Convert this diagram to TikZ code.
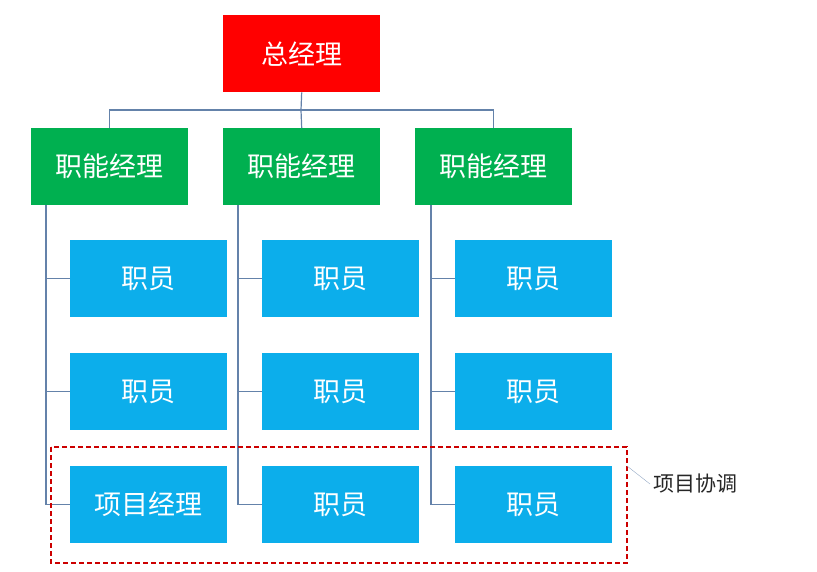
\documentclass[tikz,border=0pt]{standalone}
\usepackage{fontspec}
\newfontfamily\cjk{Noto Sans CJK SC}
\definecolor{gmg}{RGB}{0,176,80}
\definecolor{emc}{RGB}{12,174,235}
\definecolor{lnc}{RGB}{100,130,170}
\begin{document}
\begin{tikzpicture}[x=1pt,y=-1pt,
 box/.style={draw=none,minimum width=157pt,minimum height=77pt,inner sep=0pt,font=\cjk\fontsize{27}{30}\selectfont,text=white,anchor=north west},
 top/.style={box,fill=red},
 mgr/.style={box,fill=gmg},
 emp/.style={box,fill=emc},
 ln/.style={draw=lnc,line width=1.2pt}]
\useasboundingbox (0,0) rectangle (817,571);
\node[top] (t) at (223,15) {总经理};
\node[mgr] (m1) at (31,128) {职能经理};
\node[mgr] (m2) at (223,128) {职能经理};
\node[mgr] (m3) at (415,128) {职能经理};
\foreach \c/\x in {1/70,2/262,3/455}{
 \foreach \r/\y in {1/240,2/353}{
  \node[emp] (e\c\r) at (\x,\y) {职员};
 }}
\node[emp] (e13) at (70,466) {项目经理};
\node[emp] (e23) at (262,466) {职员};
\node[emp] (e33) at (455,466) {职员};
\coordinate (h) at (301,110);
\draw[ln] (t.south) -- (h);
\draw[ln] (m1.north) |- (h) -| (m3.north);
\draw[ln] (m2.north) -- (h);
\foreach \c/\lx in {1/46,2/238,3/431}{
 \draw[ln] (\lx,205) |- (e\c3.west);
 \draw[ln] (e\c1.west -| {\lx,0}) -- (e\c1.west);
 \draw[ln] (e\c2.west -| {\lx,0}) -- (e\c2.west);
}
\draw[red!80!black,line width=1.2pt,dash pattern=on 5pt off 3pt] (51,447) rectangle (627,563);
\node[font=\cjk\fontsize{21}{24}\selectfont,anchor=west,text=black!85] (lab) at (650,484) {项目协调};
\draw[lnc!70] (627,466) -- (lab.west);
\end{tikzpicture}
\end{document}
